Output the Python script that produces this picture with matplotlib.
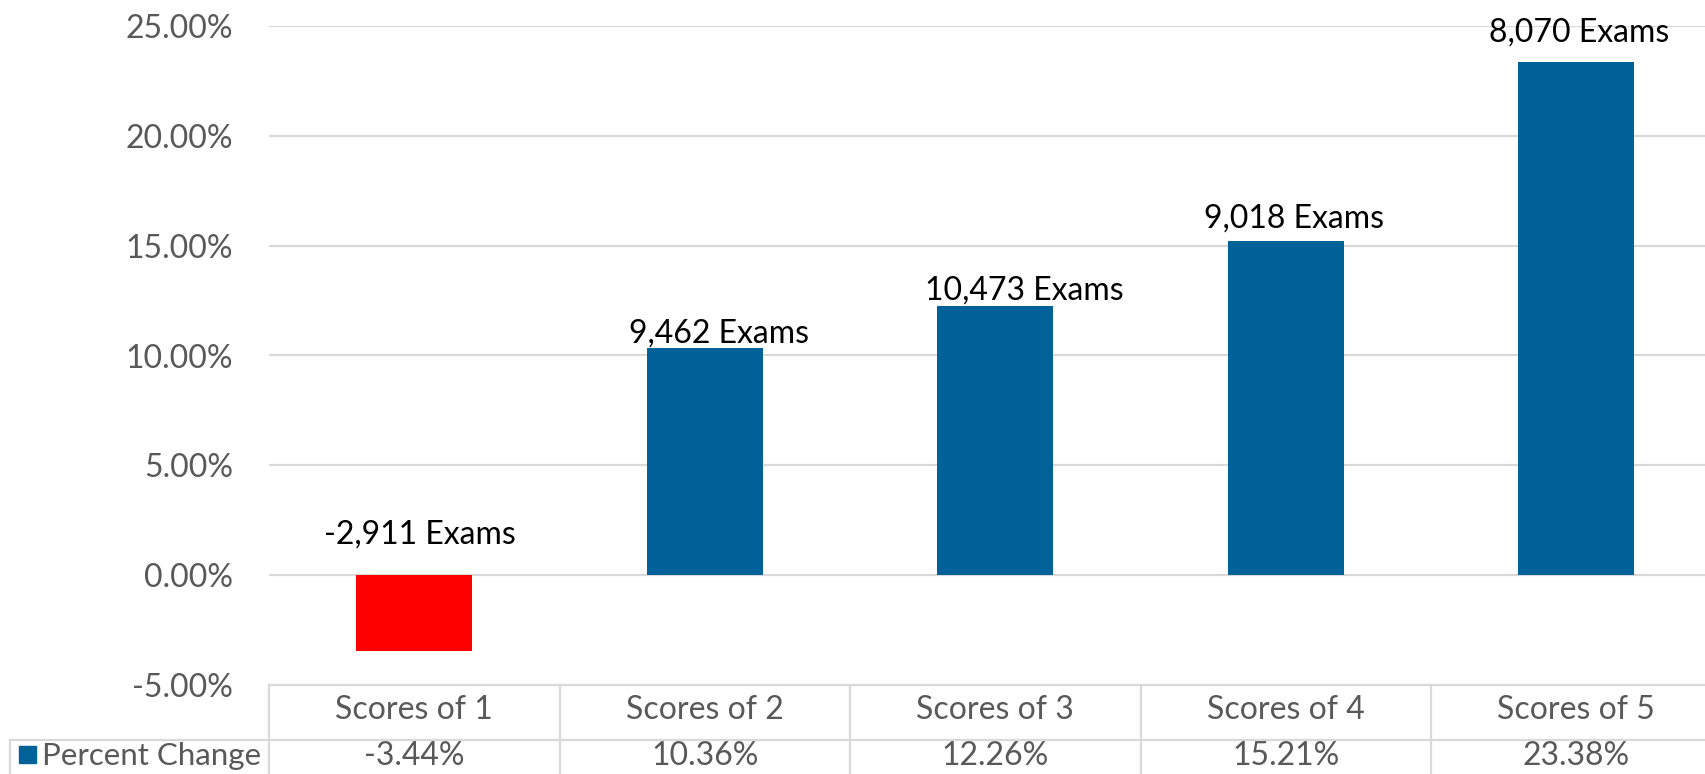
import matplotlib
matplotlib.use("Agg")
import matplotlib.pyplot as plt
from matplotlib.lines import Line2D
from matplotlib.patches import Rectangle
from matplotlib import transforms
from matplotlib.ticker import FuncFormatter

categories = ["Scores of 1", "Scores of 2", "Scores of 3", "Scores of 4", "Scores of 5"]
pct_change = [-3.44, 10.36, 12.26, 15.21, 23.38]
exam_change = [-2911, 9462, 10473, 9018, 8070]
series_name = "Percent Change"

# label offsets (x in category units, y in percentage points) - placement only
label_dx = [0.02, 0.05, 0.1, 0.03, 0.01]
label_y = [1.85, 11.0, 12.95, 16.25, 24.7]

W, H = 1706, 774
BLUE = "#006299"
RED = "#FF0000"
GRID = "#D9D9D9"
GREY = "#595959"
FONT = "Lato"
FS = 23

plt.rcParams["font.family"] = [FONT, "DejaVu Sans"]

fig = plt.figure(figsize=(W / 100, H / 100), dpi=100)
left = 269 / W
cat_w = 290.5 / W
ax = fig.add_axes([left, 89 / H, 5 * cat_w, 659 / H])

x = list(range(len(categories)))
colors = [RED if v < 0 else BLUE for v in pct_change]
ax.bar(x, pct_change, width=0.4, color=colors, zorder=3)

ax.set_xlim(-0.5, 4.5)
ax.set_ylim(-5, 25)
ax.set_yticks([-5, 0, 5, 10, 15, 20, 25])
ax.yaxis.set_major_formatter(FuncFormatter(lambda v, p: f"{v:.2f}%"))
ax.tick_params(axis="y", length=0, pad=26, labelsize=FS, labelcolor=GREY)
ax.set_xticks([])
for s in ax.spines.values():
    s.set_visible(False)
for g in [0, 5, 10, 15, 20, 25]:
    ax.axhline(g, color=GRID, lw=1.6, zorder=1)

for i, (v, n) in enumerate(zip(pct_change, exam_change)):
    ax.text(i + label_dx[i], label_y[i], f"{n:,} Exams", ha="center", va="center",
            fontsize=FS, color="black", zorder=4)

# data table below the plot
bt = transforms.blended_transform_factory(ax.transData, fig.transFigure)
y_top = 89 / H
y_mid = 34 / H
fig.add_artist(Line2D([left, 1.0], [y_top, y_top], color=GRID, lw=1.6, transform=fig.transFigure))
fig.add_artist(Line2D([10 / W, 1.0], [y_mid, y_mid], color=GRID, lw=1.6, transform=fig.transFigure))
fig.add_artist(Line2D([10 / W, 10 / W], [0, y_mid], color=GRID, lw=1.6, transform=fig.transFigure))
for k in range(len(categories) + 1):
    ax.add_artist(Line2D([k - 0.5, k - 0.5], [0, y_top], color=GRID, lw=1.6,
                         transform=bt, clip_on=False))
for i, (c, v) in enumerate(zip(categories, pct_change)):
    ax.text(i, 64 / H, c, transform=bt, ha="center", va="center",
            fontsize=FS, color=GREY, clip_on=False)
    ax.text(i, 18 / H, f"{v:.2f}%", transform=bt, ha="center", va="center",
            fontsize=FS, color=GREY, clip_on=False)

fig.add_artist(Rectangle((19 / W, 11 / H), 17 / W, 17 / H, color=BLUE,
                         transform=fig.transFigure))
fig.text(42 / W, 18 / H, series_name, ha="left", va="center", fontsize=22.5, color=GREY)

fig.savefig("out.png", dpi=100, facecolor="white")
